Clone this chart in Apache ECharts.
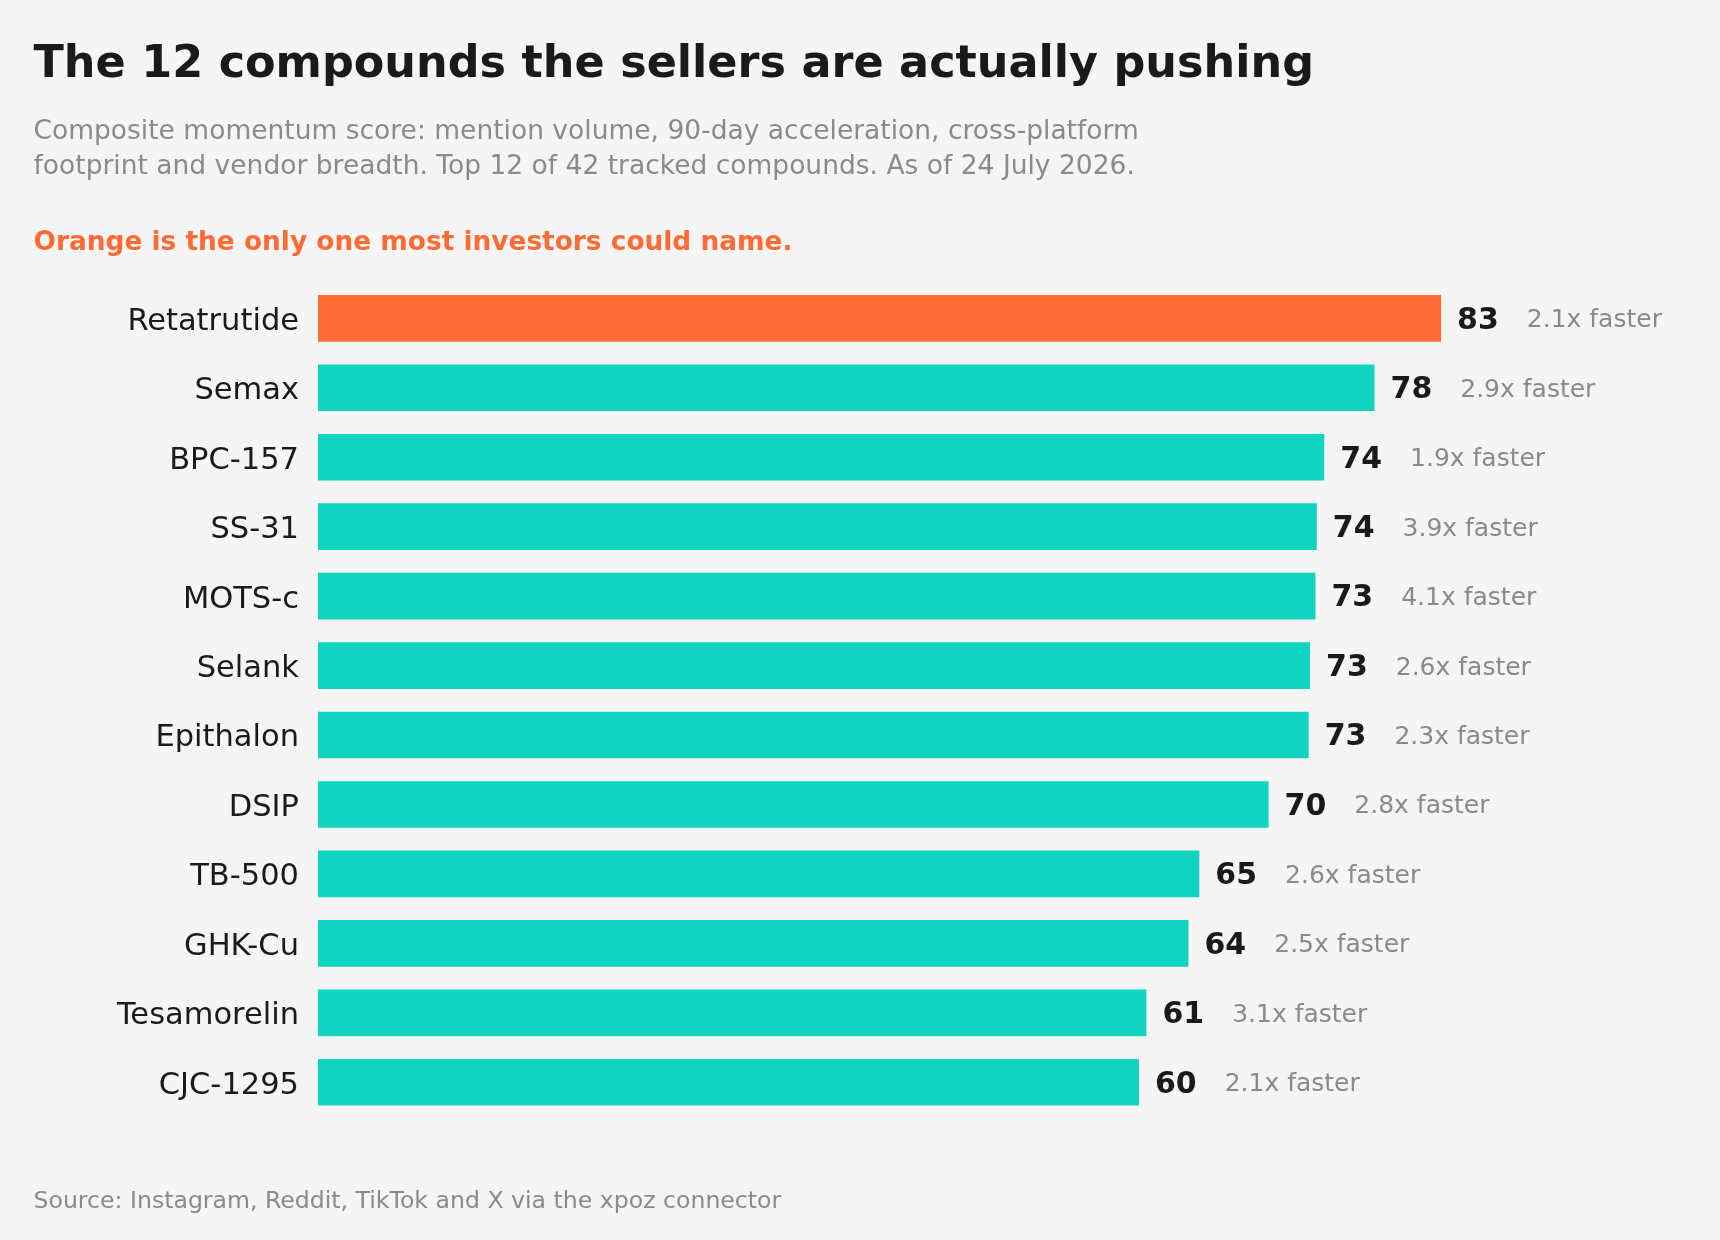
<!DOCTYPE html>
<html>
<head>
<meta charset="utf-8">
<script src="https://cdn.jsdelivr.net/npm/echarts@6/dist/echarts.min.js"></script>
<style>
  html, body { margin: 0; padding: 0; background: #f5f5f5; }
  #chart { width: 1720px; height: 1240px; }
</style>
</head>
<body>
<div id="chart"></div>
<script>
const compounds = ['Retatrutide', 'Semax', 'BPC-157', 'SS-31', 'MOTS-c', 'Selank', 'Epithalon', 'DSIP', 'TB-500', 'GHK-Cu', 'Tesamorelin', 'CJC-1295'];
const scores = [82.7, 77.8, 74.1, 73.55, 73.45, 73.05, 72.95, 70.0, 64.9, 64.1, 61.0, 60.45];
const speedups = [2.1, 2.9, 1.9, 3.9, 4.1, 2.6, 2.3, 2.8, 2.6, 2.5, 3.1, 2.1];
const highlighted = ['Retatrutide'];

const ORANGE = '#FF6B35';
const TEAL = '#10D4C0';
const DARK = '#1a1a1a';
const GRAY = '#8a8a8a';
const FONT = 'DejaVu Sans';

const chart = echarts.init(document.getElementById('chart'));

const barData = compounds.map((c, i) => ({
  value: scores[i],
  itemStyle: { color: highlighted.includes(c) ? ORANGE : TEAL }
}));

chart.setOption({
  backgroundColor: '#f5f5f5',
  animation: false,
  graphic: [
    { type: 'text', position: [33.5, 65.8], style: { text: 'The 12 compounds the sellers are actually pushing', font: 'bold 44.5px "DejaVu Sans"', fill: DARK, verticalAlign: 'middle', align: 'left' } },
    { type: 'text', position: [33.5, 131.9], style: { text: 'Composite momentum score: mention volume, 90-day acceleration, cross-platform', font: '26.5px "DejaVu Sans"', fill: GRAY, verticalAlign: 'middle', align: 'left' } },
    { type: 'text', position: [33.5, 166.9], style: { text: 'footprint and vendor breadth. Top 12 of 42 tracked compounds. As of 24 July 2026.', font: '26.5px "DejaVu Sans"', fill: GRAY, verticalAlign: 'middle', align: 'left' } },
    { type: 'text', position: [33.5, 242.9], style: { text: 'Orange is the only one most investors could name.', font: 'bold 26.4px "DejaVu Sans"', fill: ORANGE, verticalAlign: 'middle', align: 'left' } },
    { type: 'text', position: [33.5, 1201.5], style: { text: 'Source: Instagram, Reddit, TikTok and X via the xpoz connector', font: '23.6px "DejaVu Sans"', fill: GRAY, verticalAlign: 'middle', align: 'left' } }
  ],
  grid: { left: 318, right: 44, top: 283.6, bottom: 123, containLabel: false },
  xAxis: { type: 'value', min: 0, max: 100, show: false },
  yAxis: {
    type: 'category',
    data: compounds,
    inverse: true,
    axisLine: { show: false },
    axisTick: { show: false },
    splitLine: { show: false },
    axisLabel: {
      margin: 19,
      formatter: v => '{n|' + v + '}',
      rich: {
        n: { fontFamily: FONT, fontSize: 30.5, color: DARK, padding: [7, 0, 0, 0], lineHeight: 36 }
      }
    }
  },
  series: [{
    type: 'bar',
    data: barData,
    barCategoryGap: '32.8%',
    label: {
      show: true,
      position: 'right',
      distance: 16,
      padding: [5, 0, 0, 0],
      formatter: p => '{v|' + Math.round(p.value) + '}{f|' + speedups[p.dataIndex].toFixed(1) + 'x faster}',
      rich: {
        v: { fontFamily: FONT, fontSize: 30, fontWeight: 'bold', color: DARK, verticalAlign: 'middle', lineHeight: 34 },
        f: { fontFamily: FONT, fontSize: 25, color: GRAY, verticalAlign: 'middle', lineHeight: 34, padding: [0, 0, 0, 28] }
      }
    }
  }]
});
</script>
</body>
</html>
